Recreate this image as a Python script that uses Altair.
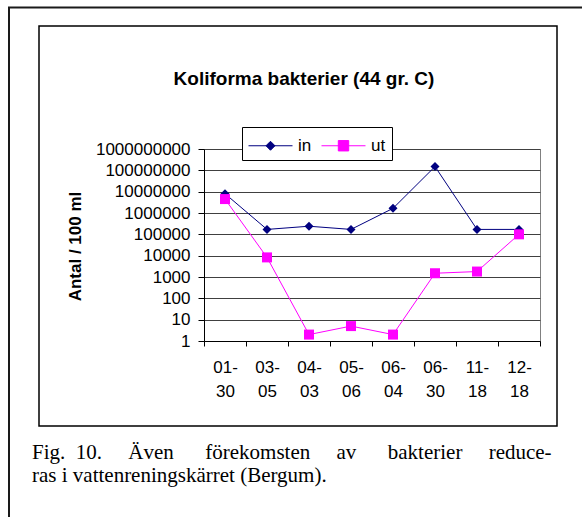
import altair as alt
import pandas as pd

# Sampling dates (month-day) and counts per 100 ml, inflow ("in") and outflow ("ut")
dates = ["01-30", "03-05", "04-03", "05-06", "06-04", "06-30", "11-18", "12-18"]
in_values = [8000000, 170000, 240000, 170000, 1650000, 150000000, 170000, 170000]
ut_values = [4500000, 8300, 2, 5, 2, 1500, 1800, 100000]

series_names = ["in", "ut"]
series_colors = ["#000080", "#FF00FF"]
series_shapes = ["diamond", "square"]
series_sizes = [81, 100]
y_ticks = [10 ** k for k in range(10)]

title_text = "Koliforma bakterier (44 gr. C)"
y_title = "Antal / 100 ml"
NB = "\u00a0"
caption_lines = [
    "Fig." + NB * 2 + "10." + NB * 5 + "Även" + NB * 6 + "förekomsten" + NB * 5
    + "av" + NB * 6 + "bakterier" + NB * 5 + "reduce-",
    "ras i vattenreningskärret (Bergum).",
]

SANS = "Liberation Sans, Arial, sans-serif"
SERIF = "Liberation Serif, Times New Roman, serif"

rows = []
for name, vals in zip(series_names, [in_values, ut_values]):
    for d, v in zip(dates, vals):
        rows.append({"date": d, "series": name, "value": v})
df = pd.DataFrame(rows)
one = pd.DataFrame({"k": [0]})

# legend symbols: a short line with the series marker in the middle
in_path = "M-1,0L2.667,0M0.458,0L0.833,-0.375L1.208,0L0.833,0.375Z"
ut_path = "M-1,0L2.667,0M0.4,-0.433L1.266,-0.433L1.266,0.433L0.4,0.433Z"


def pick(a, b):
    return f"datum.value === '{series_names[0]}' ? '{a}' : '{b}'"


def make_legend(custom):
    kw = dict(
        title=None, orient="none", legendX=38, legendY=-22,
        direction="horizontal", columns=2, padding=6,
        labelFont=SANS, labelFontSize=17, labelColor="black",
        fillColor="white", strokeColor="black",
    )
    if custom:
        kw.update(
            symbolSize=576, labelOffset=25, columnPadding=7, symbolOffset=0,
            symbolType=alt.ExprRef(pick(in_path, ut_path)),
            symbolStrokeColor=alt.ExprRef(pick(*series_colors)),
            symbolFillColor=alt.ExprRef(pick(*series_colors)),
            symbolStrokeWidth=1, symbolOpacity=1,
        )
    else:
        kw.update(symbolSize=90, labelOffset=6, columnPadding=10)
    return alt.Legend(**kw)


def build(custom):
    legend = make_legend(custom)
    color = alt.Color("series:N", scale=alt.Scale(domain=series_names, range=series_colors), legend=legend)
    x = alt.X(
        "date:N", sort=dates,
        scale=alt.Scale(paddingInner=0, paddingOuter=0),
        axis=alt.Axis(
            title=None, labelAngle=0,
            labelExpr="[substring(datum.label, 0, 3), substring(datum.label, 3)]",
            labelLineHeight=24, labelFont=SANS, labelFontSize=17, labelColor="black",
            labelPadding=13, labelBaseline="top", tickSize=5, tickBand="extent",
            tickColor="black", domainColor="black", grid=False,
        ),
    )
    y = alt.Y(
        "value:Q",
        scale=alt.Scale(type="log", domain=[1, 1e9], nice=False),
        axis=alt.Axis(
            values=y_ticks, format="d", labelFont=SANS, labelFontSize=17,
            labelColor="black", labelPadding=8, tickSize=6, tickColor="black",
            domainColor="black", grid=True, gridColor="#404040",
            title=y_title, titleFont=SANS, titleFontSize=17, titleFontWeight="bold",
            titleColor="black", titleAngle=270, titleX=-129, titleY=97,
            titleAlign="center", titleBaseline="middle",
        ),
    )

    outer_left = alt.Chart(one).mark_rule(color="#1a1a1a", strokeWidth=2).encode(
        x=alt.value(-195), y=alt.value(-142), y2=alt.value(368))
    outer_top = alt.Chart(one).mark_rule(color="#1a1a1a", strokeWidth=2).encode(
        x=alt.value(-196), x2=alt.value(378), y=alt.value(-141.5))
    inner = alt.Chart(one).mark_rect(fillOpacity=0, stroke="black", strokeWidth=1.5).encode(
        x=alt.value(-165), x2=alt.value(353), y=alt.value(-123), y2=alt.value(277))
    title = alt.Chart(one).mark_text(
        text=title_text, font=SANS, fontSize=19, fontWeight="bold",
        align="center", baseline="alphabetic", color="black",
    ).encode(x=alt.value(100), y=alt.value(-64))
    caption = alt.Chart(one).mark_text(
        text=caption_lines, font=SERIF, fontSize=21, lineHeight=23,
        align="left", baseline="alphabetic", color="black",
    ).encode(x=alt.value(-172), y=alt.value(310))

    lines = alt.Chart(df).mark_line(strokeWidth=1).encode(
        x=x, y=y, color=color, order=alt.Order("series:N"))
    marker_layers = []
    for name, shape, size in zip(series_names, series_shapes, series_sizes):
        marker_layers.append(
            alt.Chart(df).transform_filter(alt.datum.series == name)
            .mark_point(filled=True, opacity=1, shape=shape, size=size)
            .encode(x=x, y=y, color=color)
        )

    chart = alt.layer(outer_left, outer_top, inner, title, caption, lines, *marker_layers).properties(
        width=336, height=192,
        padding={"left": 204, "top": 149, "right": 42, "bottom": 176},
        autosize=alt.AutoSizeParams(type="none"),
        background="white",
    ).configure_view(stroke="#808080", strokeWidth=1)
    return chart


try:
    chart = build(True)
    chart.to_dict()
except Exception:
    chart = build(False)

chart.save("out.html", embed_options={"renderer": "svg", "actions": False})
